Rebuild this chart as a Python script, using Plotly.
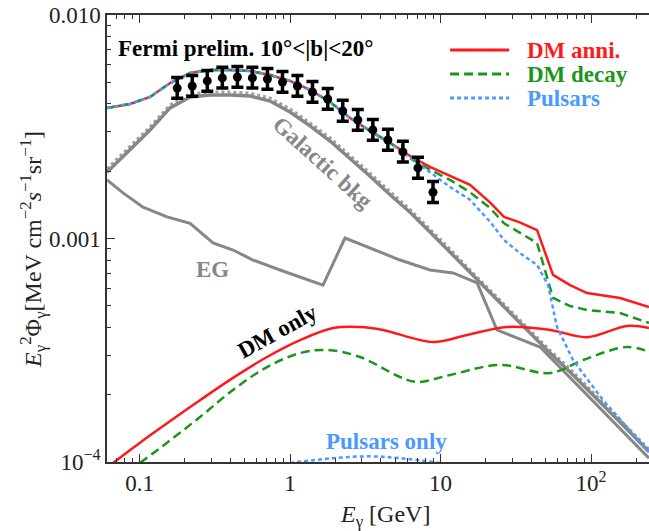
import plotly.graph_objects as go

# ---------------- data ----------------
# Fermi preliminary data points
fermi_E = [0.178, 0.224, 0.282, 0.355, 0.447, 0.562, 0.708, 0.891, 1.12,
           1.41, 1.78, 2.24, 2.82, 3.55, 4.47, 5.62, 7.08, 8.91]
fermi_F = [0.00471, 0.00481, 0.00507, 0.00523, 0.00528, 0.00523, 0.00517, 0.00501, 0.00481,
           0.00452, 0.00421, 0.00372, 0.00339, 0.00306, 0.00276, 0.00244, 0.00207, 0.00161]
fermi_err_up = [0.00054, 0.00055, 0.00058, 0.00060, 0.00061, 0.00060, 0.00059, 0.00058, 0.00055,
                0.00052, 0.00048, 0.00043, 0.00039, 0.00035, 0.00032, 0.00028, 0.00024, 0.00019]
fermi_err_dn = [0.00047, 0.00048, 0.00051, 0.00052, 0.00053, 0.00052, 0.00052, 0.00050, 0.00048,
                0.00045, 0.00042, 0.00037, 0.00034, 0.00031, 0.00028, 0.00024, 0.00021, 0.00016]

# Total spectra (background + component)
tot_E_low = [0.0608, 0.0865, 0.1174, 0.1595, 0.2168, 0.2938, 0.3992, 0.5422, 0.7365,
             1.0, 1.358, 1.845, 2.505, 3.40, 4.62]
tot_F_low = [0.00384, 0.00400, 0.00430, 0.00496, 0.00550, 0.00567, 0.00567, 0.00562, 0.00539,
             0.00507, 0.00462, 0.00408, 0.00346, 0.00303, 0.00268]

anni_E_high = [6.27, 8.51, 11.56, 15.7, 21.3, 26.4, 33.6, 43.8, 55.9, 72.5, 94.0, 114.8, 155.9, 242.7]
anni_F_high = [0.00234, 0.00209, 0.00190, 0.00174, 0.00145, 0.00125, 0.00118, 0.00109,
               0.000687, 0.000619, 0.000570, 0.000559, 0.000542, 0.000494]

decay_E_high = [6.27, 8.51, 11.56, 15.7, 21.3, 26.4, 33.6, 43.8, 55.9, 72.5, 94.0, 155.9, 242.7]
decay_F_high = [0.00229, 0.00203, 0.00183, 0.00161, 0.00137, 0.00117, 0.00106, 0.000955,
                0.000542, 0.000499, 0.000479, 0.000464, 0.000419]

psr_E_high = [6.27, 8.51, 11.56, 15.7, 21.3, 26.4, 33.6, 43.8, 51.8, 59.4, 75.9, 120.2, 173.4, 242.7]
psr_F_high = [0.00229, 0.00198, 0.00170, 0.00149, 0.00119, 0.000985, 0.000861, 0.000761,
              0.000619, 0.000402, 0.000286, 0.000189, 0.000143, 0.000111]

# Galactic background
gal_E = [0.0608, 0.0865, 0.1174, 0.1595, 0.2168, 0.2938, 0.3992, 0.5422, 0.7365, 1.0,
         1.358, 1.845, 2.505, 3.40, 4.62, 6.27, 8.51, 11.56, 15.7, 21.3, 28.97, 39.3,
         53.4, 72.5, 98.5, 133.8, 181.6, 242.7]
gal_F = [0.00198, 0.00249, 0.00306, 0.00384, 0.00430, 0.00439, 0.00439, 0.00434, 0.00412, 0.00368,
         0.00319, 0.00273, 0.00229, 0.00190, 0.00157, 0.00131, 0.00107, 0.000870, 0.000701, 0.000570,
         0.000464, 0.000378, 0.000307, 0.000253, 0.000206, 0.000167, 0.000136, 0.000111]
gal2_F = [0.00205, 0.00258, 0.00316, 0.00396, 0.00443, 0.00452, 0.00452, 0.00447, 0.00425, 0.00380,
          0.00329, 0.00282, 0.00236, 0.00196, 0.00162, 0.00135, 0.00110, 0.000897, 0.000723, 0.000588,
          0.000478, 0.000390, 0.000316, 0.000261, 0.000212, 0.000172, 0.000140, 0.000114]

# Extragalactic background
eg_E = [0.0608, 0.0777, 0.1055, 0.1524, 0.2168, 0.308, 0.418, 0.568, 0.858, 1.656,
        2.319, 5.38, 8.51, 12.11, 17.5, 23.7, 45.8, 242.7]
eg_F = [0.00183, 0.00160, 0.00138, 0.00125, 0.00117, 0.000955, 0.000888, 0.000801, 0.000723,
        0.000619, 0.001005, 0.000801, 0.000723, 0.000701, 0.000633, 0.000390, 0.000327, 0.000104]

# DM-only spectra
dman_E = [0.0667, 0.1007, 0.1524, 0.2523, 0.418, 0.7033, 1.165, 1.931, 2.918, 4.15,
          8.91, 15.0, 27.7, 53.4, 94.0, 173.4, 242.7]
dman_F = [0.0000990, 0.000122, 0.000149, 0.000189, 0.000238, 0.000295, 0.000351, 0.000398,
          0.000402, 0.000390, 0.000344, 0.000370, 0.000402, 0.000390, 0.000362, 0.000406, 0.000398]

dmdec_E = [0.1007, 0.1524, 0.2523, 0.418, 0.7033, 1.165, 1.761, 2.918, 5.38, 6.98,
           11.56, 24.8, 53.4, 88.5, 173.4, 242.7]
dmdec_F = [0.0000990, 0.000122, 0.000159, 0.000210, 0.000266, 0.000307, 0.000317, 0.000295,
           0.000240, 0.000228, 0.000245, 0.000272, 0.000250, 0.000286, 0.000327, 0.000311]

# Pulsars-only spectrum
psro_E = [1.0, 1.931, 3.40, 5.38, 9.9]
psro_F = [0.0000990, 0.000104, 0.000106, 0.000104, 0.0000990]

x_tickvals = [0.1, 1, 10, 100]
x_ticktext = ["0.1", "1", "10", "10<sup>2</sup>"]
y_tickvals = [1e-4, 1e-3, 1e-2]
y_ticktext = ["10<sup>\u22124</sup>", "0.001", "0.010"]

legend_labels = ["DM anni.", "DM decay", "Pulsars"]

# ---------------- styles ----------------
RED = "#ff1a1a"
GREEN = "#1a961a"
BLUE = "#4d99ff"
GRAY = "#878787"
FONT = "Liberation Serif"
DASH_DECAY = "9px,5px"
DASH_PSR = "4px,3px"

fig = go.Figure()

# backgrounds
fig.add_trace(go.Scatter(x=gal_E, y=gal2_F, mode="lines", showlegend=False,
                         line=dict(color="#a0a0a0", width=3, dash="3px,3px")))
fig.add_trace(go.Scatter(x=gal_E, y=gal_F, mode="lines", showlegend=False,
                         line=dict(color=GRAY, width=3.5)))
fig.add_trace(go.Scatter(x=eg_E, y=eg_F, mode="lines", showlegend=False,
                         line=dict(color=GRAY, width=3)))

# DM only / pulsars only
fig.add_trace(go.Scatter(x=dman_E, y=dman_F, mode="lines", showlegend=False,
                         line=dict(color=RED, width=2.5, shape="spline", smoothing=1)))
fig.add_trace(go.Scatter(x=dmdec_E, y=dmdec_F, mode="lines", showlegend=False,
                         line=dict(color=GREEN, width=2.5, dash=DASH_DECAY, shape="spline", smoothing=1)))
fig.add_trace(go.Scatter(x=psro_E, y=psro_F, mode="lines", showlegend=False,
                         line=dict(color=BLUE, width=2.5, dash=DASH_PSR, shape="spline")))

# totals
fig.add_trace(go.Scatter(x=tot_E_low + anni_E_high, y=tot_F_low + anni_F_high, mode="lines",
                         name=legend_labels[0], showlegend=False,
                         line=dict(color=RED, width=2.5)))
fig.add_trace(go.Scatter(x=tot_E_low + decay_E_high, y=tot_F_low + decay_F_high, mode="lines",
                         name=legend_labels[1], showlegend=False,
                         line=dict(color=GREEN, width=2.5, dash=DASH_DECAY)))
fig.add_trace(go.Scatter(x=tot_E_low + psr_E_high, y=tot_F_low + psr_F_high, mode="lines",
                         name=legend_labels[2], showlegend=False,
                         line=dict(color=BLUE, width=2.5, dash=DASH_PSR)))

# data
fig.add_trace(go.Scatter(x=fermi_E, y=fermi_F, mode="markers", showlegend=False,
                         marker=dict(color="black", size=9),
                         error_y=dict(type="data", symmetric=False, array=fermi_err_up,
                                      arrayminus=fermi_err_dn, color="black", thickness=3.5, width=6)))

x_minor = [m * 10 ** e for e in range(-2, 3) for m in range(2, 10)]
y_minor = [m * 10 ** e for e in range(-5, -2) for m in range(2, 10)]

axis_common = dict(showgrid=False, zeroline=False, showline=True, linecolor="#333333", linewidth=1.5,
                   ticks="inside", ticklen=8, tickwidth=1.3, tickcolor="#333333",
                   tickfont=dict(family=FONT, size=23, color="#222222"))

fig.update_xaxes(type="log", range=[-1.216, 2.385], mirror="ticks",
                 tickvals=x_tickvals, ticktext=x_ticktext,
                 minor=dict(ticks="inside", ticklen=4, tickwidth=1, tickcolor="#333333", tickvals=x_minor),
                 **axis_common)
fig.update_yaxes(type="log", range=[-4, -2], mirror=False,
                 tickvals=y_tickvals, ticktext=y_ticktext,
                 minor=dict(ticks="inside", ticklen=4, tickwidth=1, tickcolor="#333333", tickvals=y_minor),
                 **axis_common)

# hand-made legend (sample lines + coloured bold labels)
leg_colors = [RED, GREEN, BLUE]
leg_dash = ["solid", DASH_DECAY, DASH_PSR]
leg_y = [0.9217, 0.868, 0.8143]
shapes = []
annotations = []
for lab, col, dsh, yy in zip(legend_labels, leg_colors, leg_dash, leg_y):
    shapes.append(dict(type="line", xref="paper", yref="paper", x0=0.633, x1=0.742, y0=yy, y1=yy,
                       line=dict(color=col, width=3, dash=dsh)))
    annotations.append(dict(text="<b>%s</b>" % lab, xref="paper", yref="paper", x=0.771, y=yy,
                            xanchor="left", yanchor="middle", showarrow=False,
                            font=dict(family=FONT, size=23, color=col)))


def label(text, x, y, color, angle=0, size=23):
    return dict(text=text, xref="paper", yref="paper", x=x, y=y, xanchor="center", yanchor="middle",
                showarrow=False, textangle=angle, font=dict(family=FONT, size=size, color=color))


annotations += [
    dict(text="<b>Fermi prelim. 10°&lt;|b|&lt;20°</b>", xref="paper", yref="paper",
         x=0.017, y=0.926, xanchor="left", yanchor="middle", showarrow=False,
         font=dict(family=FONT, size=23, color="black")),
    label("<b>Galactic bkg</b>", 0.397, 0.669, GRAY, angle=42),
    label("<b>EG</b>", 0.194, 0.43, GRAY),
    label("<b>DM only</b>", 0.314, 0.293, "black", angle=-29),
    label("<b>Pulsars only</b>", 0.515, 0.045, BLUE),
    label("<i>E</i><sub>γ</sub><sup>2</sup>Φ<sub>γ</sub>[MeV cm<sup>−2</sup><i>s</i><sup>−1</sup>sr<sup>−1</sup>]",
          -0.138, 0.475, "#222222", angle=-90, size=24),
    label("<i>E</i><sub>γ</sub> [GeV]", 0.513, -0.121, "#222222", size=24),
]

fig.update_layout(
    width=649, height=531,
    margin=dict(l=107, r=0, t=15, b=69),
    paper_bgcolor="white", plot_bgcolor="white",
    showlegend=False,
    shapes=shapes,
    annotations=annotations,
)

fig.write_html("out.html")
